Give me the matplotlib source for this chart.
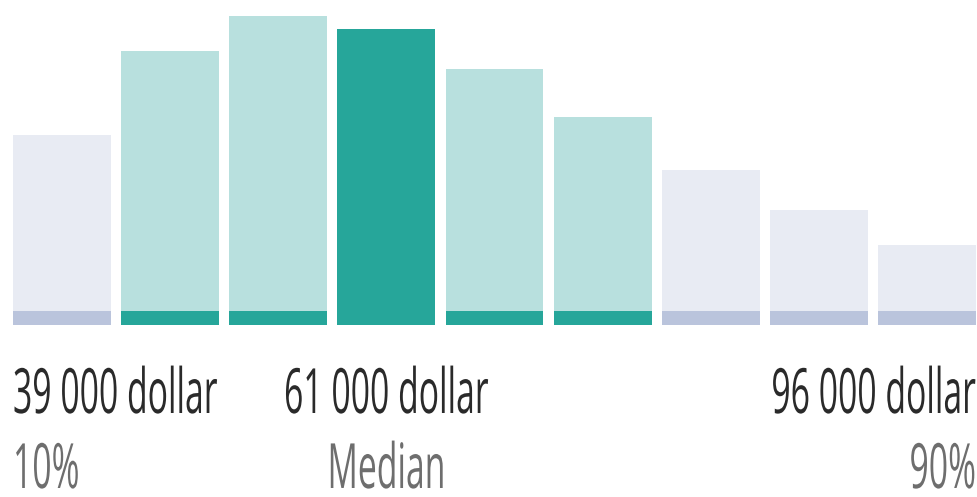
import matplotlib
matplotlib.use("Agg")
import matplotlib.pyplot as plt
from matplotlib.patheffects import AbstractPathEffect
from matplotlib.transforms import Affine2D

# ---- data ----
bar_values = [190, 274, 309, 296, 256, 208, 155, 115, 80]
bar_groups = ["outer", "inner", "inner", "median", "inner", "inner", "outer", "outer", "outer"]
amount_labels = ["39 000 dollar", "61 000 dollar", "96 000 dollar"]
amount_bars = [0, 3, 8]
percentile_labels = ["10%", "Median", "90%"]

# ---- styles ----
fill_colors = {"outer": "#E8EBF3", "inner": "#B8E0DE", "median": "#26A69A"}
strip_colors = {"outer": "#BAC4DC", "inner": "#26A69A", "median": "#26A69A"}
strip_height = 14
W, H = 978, 497


class VStretch(AbstractPathEffect):
    """Stretch text glyphs vertically about their baseline (tall, narrow lettering)."""
    def __init__(self, sy):
        super().__init__()
        self.sy = sy

    def draw_path(self, renderer, gc, tpath, affine, rgbFace=None):
        new = Affine2D().scale(1, self.sy) + affine
        renderer.draw_path(gc, tpath, new, rgbFace)


fig = plt.figure(figsize=(W / 100, H / 100), dpi=100)
ax = fig.add_axes([13 / W, 1 - 325 / H, (976 - 13) / W, (325 - 16) / H])
x = list(range(len(bar_values)))
bw = 0.906
ax.bar(x, bar_values, width=bw, color=[fill_colors[g] for g in bar_groups], linewidth=0)
ax.bar(x, [strip_height] * len(x), width=bw, color=[strip_colors[g] for g in bar_groups], linewidth=0)
ax.set_xlim(-bw / 2, len(x) - 1 + bw / 2)
ax.set_ylim(0, max(bar_values))
ax.axis("off")

has = ["left", "center", "right"]
sy = 1.85
fs = 24.3
for lab, pl, bi, ha in zip(amount_labels, percentile_labels, amount_bars, has):
    if ha == "left":
        xd = bi - bw / 2
    elif ha == "right":
        xd = bi + bw / 2
    else:
        xd = bi
    xf = fig.transFigure.inverted().transform(ax.transData.transform((xd, 0)))[0]
    fig.text(xf, 1 - 413 / H, lab, ha=ha, va="baseline", fontsize=fs, family="Open Sans",
             color="#2A2A2A", path_effects=[VStretch(sy)])
    fig.text(xf, 1 - 488 / H, pl, ha=ha, va="baseline", fontsize=fs, family="Open Sans",
             color="#6E6E6E", path_effects=[VStretch(sy)])

fig.savefig("out.png", dpi=100)
